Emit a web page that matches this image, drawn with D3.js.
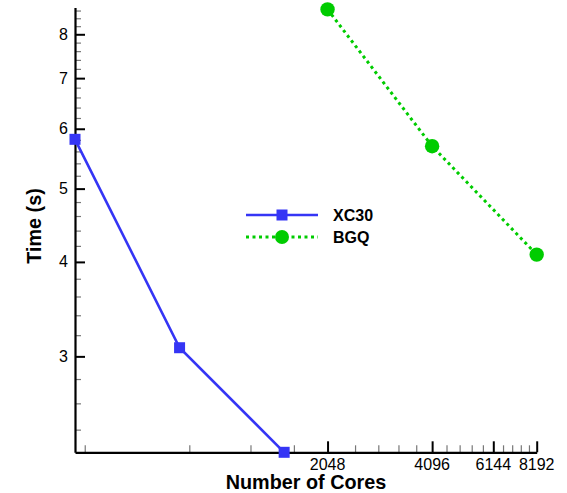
<!DOCTYPE html>
<html>
<head>
<meta charset="utf-8">
<script src="https://cdn.jsdelivr.net/npm/d3@7"></script>
<style>
  body { margin: 0; background: #fff; }
  text { font-family: "Liberation Sans", Arial, sans-serif; }
</style>
</head>
<body>
<div id="chart"></div>
<script>
const xc30Cores = [384, 768, 1536];
const xc30Time = [5.81, 3.08, 2.24];
const bgqCores = [2048, 4096, 8192];
const bgqTime = [8.63, 5.69, 4.09];
const xTickLabels = [2048, 4096, 6144, 8192];
const yTickLabels = [3, 4, 5, 6, 7, 8];
const seriesNames = ['XC30', 'BGQ'];

const width = 567, height = 493;
const blue = '#3535f5', green = '#00cc00';

const svg = d3.select('#chart').append('svg')
  .attr('width', width)
  .attr('height', height);

const x = d3.scaleLog().domain([384, 8192]).range([75, 536.7]);
const y = d3.scaleLog().domain([2.24, 8.68]).range([452.3, 7.5]);

// minor ticks: linear steps between the labelled ones
const xMinor = d3.range(1, 21).map(i => i * 409.6)
  .filter(v => v >= 384 && !xTickLabels.includes(Math.round(v)));
const yMinor = d3.range(12, 44).map(i => i * 0.2)
  .filter(v => v >= 2.24 && v <= 8.68 && Math.abs(v - Math.round(v)) > 0.01);

// axes
const gx = svg.append('g').attr('transform', `translate(0,${y.range()[0]})`);
gx.call(d3.axisTop(x).tickValues(xMinor).tickSize(7).tickFormat(''));
gx.selectAll('.tick line').attr('stroke', '#777').attr('stroke-width', 1.2);
gx.select('.domain').remove();
const gxMaj = svg.append('g').attr('transform', `translate(0,${y.range()[0]})`);
gxMaj.call(d3.axisTop(x).tickValues(xTickLabels).tickSize(11).tickSizeOuter(0).tickFormat(''));
gxMaj.selectAll('.tick line').attr('stroke', '#000').attr('stroke-width', 2);
gxMaj.select('.domain').attr('stroke-width', 2.2);

xTickLabels.forEach(v => {
  svg.append('text')
    .attr('x', x(v)).attr('y', 470)
    .attr('text-anchor', 'middle')
    .attr('font-size', 16)
    .text(v);
});

const gy = svg.append('g').attr('transform', `translate(${x.range()[0]},0)`);
gy.call(d3.axisRight(y).tickValues(yMinor).tickSize(6).tickFormat(''));
gy.selectAll('.tick line').attr('stroke', '#777').attr('stroke-width', 1.2);
gy.select('.domain').remove();
const gyMaj = svg.append('g').attr('transform', `translate(${x.range()[0]},0)`);
gyMaj.call(d3.axisRight(y).tickValues(yTickLabels).tickSize(10).tickSizeOuter(0).tickFormat(''));
gyMaj.selectAll('.tick line').attr('stroke', '#000').attr('stroke-width', 2);
gyMaj.select('.domain').attr('stroke-width', 2.2);

yTickLabels.forEach(v => {
  svg.append('text')
    .attr('x', 68).attr('y', y(v) + 5.5)
    .attr('text-anchor', 'end')
    .attr('font-size', 16)
    .text(v);
});

// axis titles
svg.append('text')
  .attr('x', 306).attr('y', 489)
  .attr('text-anchor', 'middle')
  .attr('font-size', 19.8).attr('font-weight', 'bold')
  .text('Number of Cores');
svg.append('text')
  .attr('transform', 'translate(41,226) rotate(-90)')
  .attr('text-anchor', 'middle')
  .attr('font-size', 19.8).attr('font-weight', 'bold')
  .text('Time (s)');

// series
const line = d3.line().x(d => x(d[0])).y(d => y(d[1]));
const xc30 = xc30Cores.map((c, i) => [c, xc30Time[i]]);
const bgq = bgqCores.map((c, i) => [c, bgqTime[i]]);

svg.append('path').datum(xc30)
  .attr('d', line).attr('fill', 'none')
  .attr('stroke', blue).attr('stroke-width', 2.6);
svg.selectAll('.sq').data(xc30).enter().append('rect')
  .attr('x', d => x(d[0]) - 5.5).attr('y', d => y(d[1]) - 5.5)
  .attr('width', 11).attr('height', 11)
  .attr('fill', blue);

svg.append('path').datum(bgq)
  .attr('d', line).attr('fill', 'none')
  .attr('stroke', green).attr('stroke-width', 3)
  .attr('stroke-dasharray', '3,3.5');
svg.selectAll('.dot').data(bgq).enter().append('circle')
  .attr('cx', d => x(d[0])).attr('cy', d => y(d[1]))
  .attr('r', 7.2).attr('fill', green);

// legend
const legend = svg.append('g');
[[blue, null, 215], [green, '3,3.5', 237]].forEach(([col, dash, ly], i) => {
  legend.append('line')
    .attr('x1', 246).attr('x2', 318).attr('y1', ly).attr('y2', ly)
    .attr('stroke', col).attr('stroke-width', i === 0 ? 2.6 : 3)
    .attr('stroke-dasharray', dash);
  if (i === 0) {
    legend.append('rect').attr('x', 276.5).attr('y', ly - 5.5)
      .attr('width', 11).attr('height', 11).attr('fill', col);
  } else {
    legend.append('circle').attr('cx', 282).attr('cy', ly)
      .attr('r', 7).attr('fill', col);
  }
  legend.append('text')
    .attr('x', 333).attr('y', ly + 6)
    .attr('font-size', 16).attr('font-weight', 'bold')
    .text(seriesNames[i]);
});
</script>
</body>
</html>
